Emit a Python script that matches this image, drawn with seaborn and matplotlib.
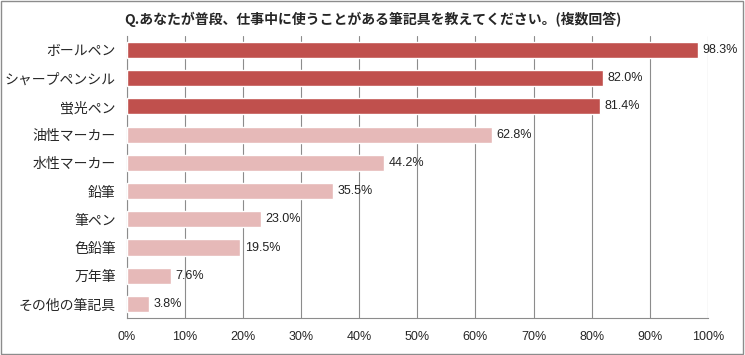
import numpy as np
import pandas as pd
import matplotlib
matplotlib.use("Agg")
import matplotlib.pyplot as plt
import seaborn as sns

# data
categories = ["ボールペン", "シャープペンシル", "蛍光ペン", "油性マーカー", "水性マーカー",
              "鉛筆", "筆ペン", "色鉛筆", "万年筆", "その他の筆記具"]
values = [98.3, 82.0, 81.4, 62.8, 44.2, 35.5, 23.0, 19.5, 7.6, 3.8]
groups = ["top", "top", "top", "rest", "rest", "rest", "rest", "rest", "rest", "rest"]
xticks = [0, 10, 20, 30, 40, 50, 60, 70, 80, 90, 100]
title = "Q.あなたが普段、仕事中に使うことがある筆記具を教えてください。(複数回答)"

df = pd.DataFrame({"item": categories, "pct": values, "grp": groups})

sns.set_style("white")
plt.rcParams["font.family"] = ["Noto Sans CJK JP", "DejaVu Sans"]

fig = plt.figure(figsize=(7.45, 3.55), dpi=100)
ax = fig.add_axes([0.1705, 0.104, 0.7795, 0.795])

sns.barplot(data=df, x="pct", y="item", hue="grp",
            palette={"top": "#C0504D", "rest": "#E6B9B8"}, saturation=1,
            dodge=False, width=0.57, legend=False, ax=ax, zorder=3)

for i, v in enumerate(values):
    ax.text(v + 0.8, i, f"{v:.1f}%", va="center", ha="left", fontsize=9,
            color="#222222", family=["Liberation Sans", "DejaVu Sans"], zorder=4)

ax.set_xlim(0, 100)
ax.set_ylim(len(categories) - 0.5, -0.5)
ax.set_xticks(xticks)
ax.set_xticklabels([f"{t}%" for t in xticks], fontsize=9,
                   family=["Liberation Sans", "DejaVu Sans"])
ax.tick_params(axis="x", length=0, pad=9)
ax.tick_params(axis="y", length=0, pad=8, labelsize=10)
ax.set_xlabel("")
ax.set_ylabel("")
ax.grid(axis="x", color="#8c8c8c", linewidth=0.8, zorder=0)
for s in ["top", "right"]:
    ax.spines[s].set_visible(False)
for s in ["left", "bottom"]:
    ax.spines[s].set_color("#8c8c8c")
    ax.spines[s].set_linewidth(0.8)

fig.text(0.5, 0.945, title, ha="center", va="center", fontsize=10, fontweight="bold")

# outer frame
fig.patches.append(plt.Rectangle((0.002, 0.003), 0.995, 0.994, transform=fig.transFigure,
                                 fill=False, edgecolor="#8c8c8c", linewidth=1))

fig.savefig("out.png", dpi=100)
